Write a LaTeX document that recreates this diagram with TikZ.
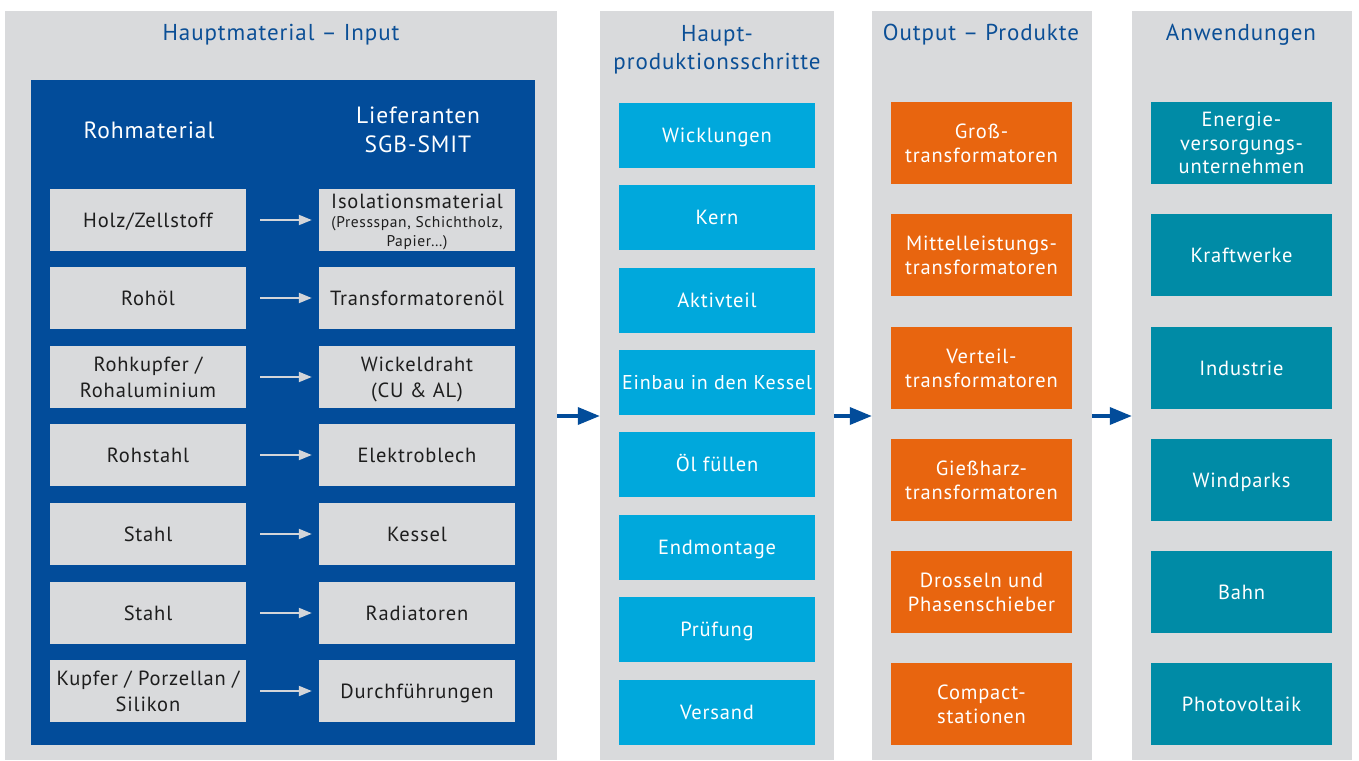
\documentclass[tikz,border=0pt]{standalone}
\usepackage{fontspec}
\setmainfont{PT Sans}[LetterSpace=4]
\usetikzlibrary{arrows.meta}
\definecolor{panelgray}{HTML}{D9DADC}
\definecolor{darkblue}{HTML}{024C9A}
\definecolor{titleblue}{HTML}{0B4F96}
\definecolor{cyanbox}{HTML}{00A8DC}
\definecolor{orangebox}{HTML}{E8650F}
\definecolor{tealbox}{HTML}{008BA6}
\definecolor{boxgray}{HTML}{D9DADC}
\definecolor{txtdark}{HTML}{1E1E1E}
\definecolor{arrowlight}{HTML}{D3D5D9}
\tikzset{
  panel/.style={fill=panelgray, draw=none, inner sep=0, minimum height=749pt},
  ptitle/.style={text=titleblue, font=\fontsize{23}{28}\selectfont, align=center, inner sep=0, text depth=0pt},
  hdr/.style={text=white, font=\fontsize{23.5}{29}\selectfont, align=center, inner sep=0, text depth=0pt},
  boxbase/.style={inner sep=0, align=center, text depth=0pt},
  oneline/.style={text height=14.4pt},
  graybox/.style={boxbase, fill=boxgray, text=txtdark, minimum width=196pt, minimum height=62pt, font=\fontsize{20.5}{26}\selectfont},
  stepbox/.style={boxbase, oneline, fill=cyanbox, text=white, minimum width=196pt, minimum height=65pt, font=\fontsize{20.5}{24}\selectfont},
  prodbox/.style={boxbase, fill=orangebox, text=white, minimum width=181pt, minimum height=82pt, font=\fontsize{20.5}{24}\selectfont},
  appbox/.style={boxbase, fill=tealbox, text=white, minimum width=181pt, minimum height=82pt, font=\fontsize{20.5}{23.5}\selectfont},
  smallarrow/.style={draw=arrowlight, line width=2pt, -{Triangle[length=13pt,width=10pt]}, shorten <=14pt, shorten >=7pt},
  bigarrow/.style={draw=darkblue, line width=3.5pt, -{Triangle[length=22pt,width=17pt]}}
}
\begin{document}
\begin{tikzpicture}[x=1pt,y=-1pt]
\useasboundingbox (0,0) rectangle (1359,760);
\fill[white] (0,0) rectangle (1359,760);
% panels
\node[panel, minimum width=552pt] (p1) at (281,385.5) {};
\node[panel, minimum width=234pt] (p2) at (717,385.5) {};
\node[panel, minimum width=220pt] (p3) at (982,385.5) {};
\node[panel, minimum width=220pt] (p4) at (1242,385.5) {};
% titles
\node[ptitle] (t1) at (281,32) {Hauptmaterial – Input};
\node[ptitle] (t2) at (717,47) {Haupt-\\produktionsschritte};
\node[ptitle] (t3) at (981,32) {Output – Produkte};
\node[ptitle] (t4) at (1241,32) {Anwendungen};
% blue box
\node[fill=darkblue, minimum width=504pt, minimum height=665pt, inner sep=0] (blue) at (283,412.5) {};
\node[hdr] (h1) at (149,130) {Rohmaterial};
\node[hdr] (h2) at (418,130) {Lieferanten\\SGB-SMIT};
% left column
\node[graybox, oneline] (l1) at (148,220) {Holz/Zellstoff};
\node[graybox, oneline] (l2) at (148,298) {Rohöl};
\node[graybox] (l3) at (148,377) {Rohkupfer /\\Rohaluminium};
\node[graybox, oneline] (l4) at (148,455) {Rohstahl};
\node[graybox, oneline] (l5) at (148,534) {Stahl};
\node[graybox, oneline] (l6) at (148,613) {Stahl};
\node[graybox] (l7) at (148,691) {Kupfer / Porzellan /\\Silikon};
% right column
\node[graybox, font=\fontsize{15.5}{19}\selectfont] (r1) at (417,220) {{\fontsize{20.5}{21}\selectfont Isolationsmaterial}\\(Pressspan, Schichtholz,\\Papier…)};
\node[graybox, oneline] (r2) at (417,298) {Transformatorenöl};
\node[graybox] (r3) at (417,377) {Wickeldraht\\(CU \& AL)};
\node[graybox, oneline] (r4) at (417,455) {Elektroblech};
\node[graybox, oneline] (r5) at (417,534) {Kessel};
\node[graybox, oneline] (r6) at (417,613) {Radiatoren};
\node[graybox, oneline] (r7) at (417,691) {Durchführungen};
\foreach \i in {1,...,7} {\draw[smallarrow] (l\i) -- (r\i);}
% production steps
\node[stepbox] (s1) at (717,135.5) {Wicklungen};
\node[stepbox] (s2) at (717,217.5) {Kern};
\node[stepbox] (s3) at (717,300) {Aktivteil};
\node[stepbox, font=\fontsize{20}{24}\selectfont] (s4) at (717,382.5) {Einbau in den Kessel};
\node[stepbox] (s5) at (717,464.5) {Öl füllen};
\node[stepbox] (s6) at (717,547.5) {Endmontage};
\node[stepbox] (s7) at (717,629.5) {Prüfung};
\node[stepbox] (s8) at (717,712.5) {Versand};
% products
\node[prodbox] (o1) at (981.5,143) {Groß-\\transformatoren};
\node[prodbox] (o2) at (981.5,255) {Mittelleistungs-\\transformatoren};
\node[prodbox] (o3) at (981.5,368) {Verteil-\\transformatoren};
\node[prodbox] (o4) at (981.5,480) {Gießharz-\\transformatoren};
\node[prodbox] (o5) at (981.5,592) {Drosseln und\\Phasenschieber};
\node[prodbox] (o6) at (981.5,704) {Compact-\\stationen};
% applications
\node[appbox] (a1) at (1241.5,143) {Energie-\\versorgungs-\\unternehmen};
\node[appbox, oneline] (a2) at (1241.5,255) {Kraftwerke};
\node[appbox, oneline] (a3) at (1241.5,368) {Industrie};
\node[appbox, oneline] (a4) at (1241.5,480) {Windparks};
\node[appbox, oneline] (a5) at (1241.5,592) {Bahn};
\node[appbox, oneline] (a6) at (1241.5,704) {Photovoltaik};
% big arrows
\coordinate (arrowrow) at (0,416);
\draw[bigarrow] (p1.east |- arrowrow) -- (p2.west |- arrowrow);
\draw[bigarrow] (p2.east |- arrowrow) -- (p3.west |- arrowrow);
\draw[bigarrow] (p3.east |- arrowrow) -- (p4.west |- arrowrow);
\end{tikzpicture}
\end{document}
